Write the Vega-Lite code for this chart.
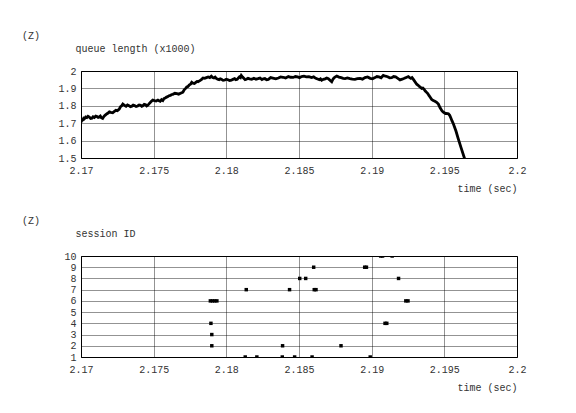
{
  "$schema": "https://vega.github.io/schema/vega-lite/v6.json",
  "background": "white",
  "padding": {"left": 21, "top": 30, "right": 10, "bottom": 10},
  "bounds": "flush",
  "spacing": 98,
  "datasets": {
    "queue": [
      {"t":2.17,"q":1.706},{"t":2.17006,"q":1.715},{"t":2.17012,"q":1.718},{"t":2.17018,"q":1.728},{"t":2.17023,"q":1.725},{"t":2.17032,"q":1.735},{"t":2.1704,"q":1.732},{"t":2.17048,"q":1.74},{"t":2.17057,"q":1.735},{"t":2.17066,"q":1.727},{"t":2.17075,"q":1.729},{"t":2.17083,"q":1.737},{"t":2.17092,"q":1.733},{"t":2.17101,"q":1.741},{"t":2.1711,"q":1.738},{"t":2.17118,"q":1.733},{"t":2.17126,"q":1.736},{"t":2.17133,"q":1.741},{"t":2.1714,"q":1.731},{"t":2.17149,"q":1.727},{"t":2.17157,"q":1.738},{"t":2.17165,"q":1.745},{"t":2.17175,"q":1.752},{"t":2.17184,"q":1.757},{"t":2.17195,"q":1.765},{"t":2.17205,"q":1.762},{"t":2.17218,"q":1.76},{"t":2.1723,"q":1.768},{"t":2.1724,"q":1.774},{"t":2.1725,"q":1.772},{"t":2.17257,"q":1.776},{"t":2.17264,"q":1.782},{"t":2.17272,"q":1.795},{"t":2.1728,"q":1.8},{"t":2.17288,"q":1.81},{"t":2.17295,"q":1.806},{"t":2.17302,"q":1.801},{"t":2.1731,"q":1.797},{"t":2.1732,"q":1.805},{"t":2.1733,"q":1.801},{"t":2.1734,"q":1.795},{"t":2.1735,"q":1.798},{"t":2.17359,"q":1.804},{"t":2.17368,"q":1.801},{"t":2.17379,"q":1.796},{"t":2.1739,"q":1.799},{"t":2.174,"q":1.805},{"t":2.1741,"q":1.803},{"t":2.17418,"q":1.797},{"t":2.17425,"q":1.8},{"t":2.17435,"q":1.808},{"t":2.17445,"q":1.806},{"t":2.17452,"q":1.799},{"t":2.1746,"q":1.803},{"t":2.17472,"q":1.815},{"t":2.17483,"q":1.824},{"t":2.17494,"q":1.833},{"t":2.17505,"q":1.83},{"t":2.17517,"q":1.828},{"t":2.17529,"q":1.833},{"t":2.17537,"q":1.829},{"t":2.17545,"q":1.826},{"t":2.17554,"q":1.835},{"t":2.17563,"q":1.83},{"t":2.17571,"q":1.842},{"t":2.1758,"q":1.845},{"t":2.17589,"q":1.85},{"t":2.17598,"q":1.853},{"t":2.17606,"q":1.858},{"t":2.17615,"q":1.86},{"t":2.17624,"q":1.865},{"t":2.17632,"q":1.866},{"t":2.17646,"q":1.872},{"t":2.1766,"q":1.87},{"t":2.17672,"q":1.867},{"t":2.17685,"q":1.872},{"t":2.17693,"q":1.875},{"t":2.17701,"q":1.878},{"t":2.1771,"q":1.892},{"t":2.1772,"q":1.9},{"t":2.17728,"q":1.908},{"t":2.17736,"q":1.911},{"t":2.17746,"q":1.92},{"t":2.17755,"q":1.925},{"t":2.17762,"q":1.935},{"t":2.1777,"q":1.93},{"t":2.1778,"q":1.928},{"t":2.1779,"q":1.935},{"t":2.17798,"q":1.94},{"t":2.17805,"q":1.938},{"t":2.17818,"q":1.945},{"t":2.1783,"q":1.952},{"t":2.1784,"q":1.96},{"t":2.17851,"q":1.958},{"t":2.17863,"q":1.962},{"t":2.17875,"q":1.966},{"t":2.17886,"q":1.962},
      {"t":2.17897,"q":1.97},{"t":2.17906,"q":1.963},{"t":2.17915,"q":1.96},{"t":2.17923,"q":1.965},{"t":2.17931,"q":1.957},{"t":2.1794,"q":1.953},{"t":2.1795,"q":1.95},{"t":2.17958,"q":1.955},{"t":2.17966,"q":1.952},{"t":2.17978,"q":1.946},{"t":2.1799,"q":1.948},{"t":2.18,"q":1.953},{"t":2.18011,"q":1.95},{"t":2.18023,"q":1.945},{"t":2.18035,"q":1.947},{"t":2.18046,"q":1.952},{"t":2.18057,"q":1.956},{"t":2.18066,"q":1.95},{"t":2.18075,"q":1.952},{"t":2.18083,"q":1.96},{"t":2.1809,"q":1.966},{"t":2.18097,"q":1.962},{"t":2.18103,"q":1.974},{"t":2.18112,"q":1.965},{"t":2.1812,"q":1.958},{"t":2.18129,"q":1.95},{"t":2.18138,"q":1.953},{"t":2.18149,"q":1.958},{"t":2.1816,"q":1.955},{"t":2.18175,"q":1.952},{"t":2.1819,"q":1.958},{"t":2.18204,"q":1.953},{"t":2.18218,"q":1.956},{"t":2.18232,"q":1.96},{"t":2.18245,"q":1.951},{"t":2.18255,"q":1.955},{"t":2.18265,"q":1.957},{"t":2.18277,"q":1.95},{"t":2.18289,"q":1.952},{"t":2.18305,"q":1.962},{"t":2.1832,"q":1.959},{"t":2.1834,"q":1.955},{"t":2.18358,"q":1.96},{"t":2.18374,"q":1.966},{"t":2.1839,"q":1.964},{"t":2.18408,"q":1.96},{"t":2.18427,"q":1.968},{"t":2.18443,"q":1.964},{"t":2.1846,"q":1.963},{"t":2.18475,"q":1.968},{"t":2.1849,"q":1.966},{"t":2.18504,"q":1.962},{"t":2.18518,"q":1.968},{"t":2.18534,"q":1.97},{"t":2.1855,"q":1.966},{"t":2.18568,"q":1.968},{"t":2.18587,"q":1.962},{"t":2.18601,"q":1.966},{"t":2.18615,"q":1.958},{"t":2.18628,"q":1.954},{"t":2.1864,"q":1.95},{"t":2.18648,"q":1.955},{"t":2.18656,"q":1.947},{"t":2.18668,"q":1.952},{"t":2.1868,"q":1.955},{"t":2.18691,"q":1.96},{"t":2.18702,"q":1.956},{"t":2.18715,"q":1.945},{"t":2.18725,"q":1.938},{"t":2.18732,"q":1.95},{"t":2.1874,"q":1.96},{"t":2.1875,"q":1.966},{"t":2.1876,"q":1.971},{"t":2.18775,"q":1.965},{"t":2.1879,"q":1.962},{"t":2.18804,"q":1.958},{"t":2.18817,"q":1.956},{"t":2.18833,"q":1.96},{"t":2.1885,"q":1.956},{"t":2.18867,"q":1.953},{"t":2.18885,"q":1.952},{"t":2.18902,"q":1.956},{"t":2.1892,"q":1.958},{"t":2.18937,"q":1.953},{"t":2.18954,"q":1.962},{"t":2.18972,"q":1.966},{"t":2.1899,"q":1.958},{"t":2.19006,"q":1.955},{"t":2.19023,"q":1.962},{"t":2.19036,"q":1.968},{"t":2.1905,"q":1.966},{"t":2.19065,"q":1.961},{"t":2.1908,"q":1.975},{"t":2.19095,"q":1.97},{"t":2.1911,"q":1.967},{"t":2.19124,"q":1.961},{"t":2.19138,"q":1.962},{"t":2.19151,"q":1.968},{"t":2.19165,"q":1.966},{"t":2.1918,"q":1.958},{"t":2.19195,"q":1.949},{"t":2.1921,"q":1.953},{"t":2.19225,"q":1.958},{"t":2.19238,"q":1.963},{"t":2.19252,"q":1.968},{"t":2.19261,"q":1.962},{"t":2.1927,"q":1.958},{"t":2.19278,"q":1.962},{"t":2.19287,"q":1.952},
      {"t":2.1931,"q":1.924},{"t":2.1932,"q":1.918},{"t":2.1933,"q":1.91},{"t":2.19337,"q":1.905},{"t":2.19344,"q":1.9},{"t":2.19352,"q":1.902},{"t":2.1936,"q":1.895},{"t":2.19369,"q":1.885},{"t":2.19378,"q":1.877},{"t":2.19386,"q":1.87},{"t":2.19395,"q":1.858},{"t":2.19404,"q":1.848},{"t":2.19413,"q":1.836},{"t":2.19424,"q":1.83},{"t":2.19435,"q":1.826},{"t":2.19447,"q":1.82},{"t":2.19459,"q":1.81},{"t":2.1947,"q":1.79},{"t":2.19482,"q":1.773},{"t":2.19491,"q":1.765},{"t":2.195,"q":1.76},{"t":2.19508,"q":1.755},{"t":2.19515,"q":1.756},{"t":2.19528,"q":1.754},{"t":2.19537,"q":1.745},{"t":2.19545,"q":1.73},{"t":2.19553,"q":1.713},{"t":2.19562,"q":1.697},{"t":2.1958,"q":1.655},{"t":2.19596,"q":1.61},{"t":2.19615,"q":1.56},{"t":2.19638,"q":1.5},{"t":2.1966,"q":1.44}
    ],
    "sessions": [
      {"t":2.1789,"id":6},{"t":2.17905,"id":6},{"t":2.1792,"id":6},{"t":2.17935,"id":6},
      {"t":2.17894,"id":4},{"t":2.179,"id":3},{"t":2.179,"id":2},
      {"t":2.18137,"id":7},{"t":2.1813,"id":1},{"t":2.1821,"id":1},{"t":2.18385,"id":1},{"t":2.1847,"id":1},{"t":2.1859,"id":1},{"t":2.1899,"id":1},
      {"t":2.18387,"id":2},{"t":2.18789,"id":2},
      {"t":2.19092,"id":4},{"t":2.19104,"id":4},
      {"t":2.19235,"id":6},{"t":2.1925,"id":6},
      {"t":2.18435,"id":7},{"t":2.18605,"id":7},{"t":2.18617,"id":7},
      {"t":2.18505,"id":8},{"t":2.18546,"id":8},{"t":2.19185,"id":8},
      {"t":2.18601,"id":9},{"t":2.18952,"id":9},{"t":2.18964,"id":9},
      {"t":2.19062,"id":10},{"t":2.19075,"id":10},{"t":2.19141,"id":10}
    ]
  },
  "vconcat": [
    {
      "width": 436,
      "height": 87,
      "title": {"text": "(Z)", "anchor": "start", "frame": "group", "dx": -59, "offset": 2},
      "data": {"name": "queue"},
      "mark": {"type": "line", "color": "black", "strokeWidth": 2.8, "clip": true, "strokeJoin": "miter"},
      "encoding": {
        "x": {"field": "t", "type": "quantitative", "scale": {"domain": [2.17, 2.2], "nice": false, "zero": false},
          "axis": {"values": [2.17, 2.175, 2.18, 2.185, 2.19, 2.195, 2.2], "format": "~g", "title": "time (sec)"}},
        "y": {"field": "q", "type": "quantitative", "scale": {"domain": [1.5, 2], "nice": false, "zero": false},
          "axis": {"values": [1.5, 1.6, 1.7, 1.8, 1.9, 2], "format": "~g", "title": "queue length (x1000)"}}
      }
    },
    {
      "width": 436,
      "height": 101,
      "title": {"text": "(Z)", "anchor": "start", "frame": "group", "dx": -59, "offset": 2},
      "data": {"name": "sessions"},
      "mark": {"type": "square", "color": "black", "filled": true, "opacity": 1, "size": 12, "clip": true},
      "encoding": {
        "x": {"field": "t", "type": "quantitative", "scale": {"domain": [2.17, 2.2], "nice": false, "zero": false},
          "axis": {"values": [2.17, 2.175, 2.18, 2.185, 2.19, 2.195, 2.2], "format": "~g", "title": "time (sec)"}},
        "y": {"field": "id", "type": "quantitative", "scale": {"domain": [1, 10], "nice": false, "zero": false},
          "axis": {"values": [1, 2, 3, 4, 5, 6, 7, 8, 9, 10], "format": "d", "title": "session ID"}}
      }
    }
  ],
  "config": {
    "font": "Liberation Mono",
    "view": {"stroke": "black", "strokeWidth": 1},
    "title": {"fontSize": 10, "fontWeight": "normal", "font": "Liberation Mono", "color": "#333"},
    "axis": {
      "labelFont": "Liberation Mono", "labelFontSize": 10, "labelColor": "#333",
      "titleFont": "Liberation Mono", "titleFontSize": 10, "titleFontWeight": "normal", "titleColor": "#333",
      "ticks": false, "domain": false,
      "grid": true, "gridColor": "black", "gridDash": [1, 1], "gridOpacity": 0.85, "gridWidth": 1
    },
    "axisX": {"labelPadding": 7, "titleAnchor": "end", "titleAlign": "right", "titleX": 436, "titleY": 30, "titleBaseline": "middle", "labelFlush": false},
    "axisY": {"labelPadding": 5, "titleAngle": 0, "titleAlign": "left", "titleBaseline": "middle", "titleX": -6, "titleY": -23, "labelBaseline": "middle"}
  }
}
